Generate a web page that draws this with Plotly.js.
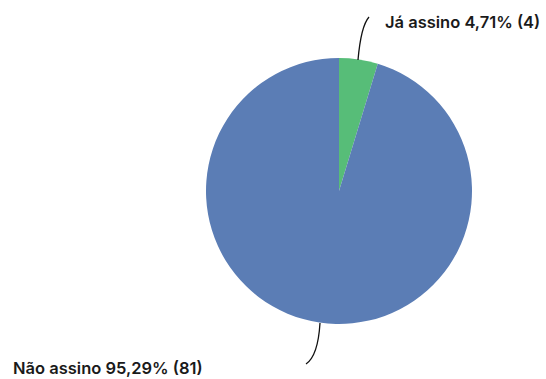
<!DOCTYPE html>
<html><head><meta charset="utf-8">
<script src="https://cdn.plot.ly/plotly-3.0.1.min.js"></script>
<style>html,body{margin:0;padding:0;background:#fff}</style>
</head><body>
<div id="chart" style="width:546px;height:379px"></div>
<script>
const categories = ["Já assino", "Não assino"];
const counts = [4, 81];
const colors = ["#57bd78", "#5b7db5"];

const total = counts.reduce((a, b) => a + b, 0);
const labelText = categories.map((c, i) =>
  c + " " + (counts[i] / total * 100).toFixed(2).replace(".", ",") + "% (" + counts[i] + ")");

const W = 546, H = 379;
const px = x => x / W, py = y => 1 - y / H;

const trace = {
  type: "pie",
  labels: categories,
  values: counts,
  marker: { colors: colors, line: { width: 0 } },
  sort: false,
  direction: "clockwise",
  rotation: 0,
  textinfo: "none",
  hoverinfo: "none",
  domain: { x: [px(206), px(472)], y: [py(324), py(58)] }
};

const layout = {
  width: W, height: H,
  margin: { l: 0, r: 0, t: 0, b: 0 },
  showlegend: false,
  paper_bgcolor: "#fff",
  font: { family: "Inter, sans-serif", color: "#1a1a1a" },
  annotations: [
    { text: labelText[0], xref: "paper", yref: "paper", x: px(384), y: py(22),
      xanchor: "left", yanchor: "middle", showarrow: false, borderpad: 0,
      font: { size: 16.5, weight: 600, color: "#1a1a1a" } },
    { text: labelText[1], xref: "paper", yref: "paper", x: px(12), y: 0,
      xanchor: "left", yanchor: "bottom", showarrow: false, borderpad: 0,
      font: { size: 16.5, weight: 600, color: "#1a1a1a" } }
  ],
  shapes: [
    { type: "path", xref: "paper", yref: "paper",
      path: `M ${px(358)},${py(60)} Q ${px(361)},${py(26)} ${px(369)},${py(17)}`,
      line: { color: "#111", width: 1.3 } },
    { type: "path", xref: "paper", yref: "paper",
      path: `M ${px(320)},${py(323)} Q ${px(318)},${py(356)} ${px(306)},${py(364)}`,
      line: { color: "#111", width: 1.3 } }
  ]
};

Plotly.newPlot("chart", [trace], layout, { displayModeBar: false, staticPlot: true });
</script>
</body></html>
